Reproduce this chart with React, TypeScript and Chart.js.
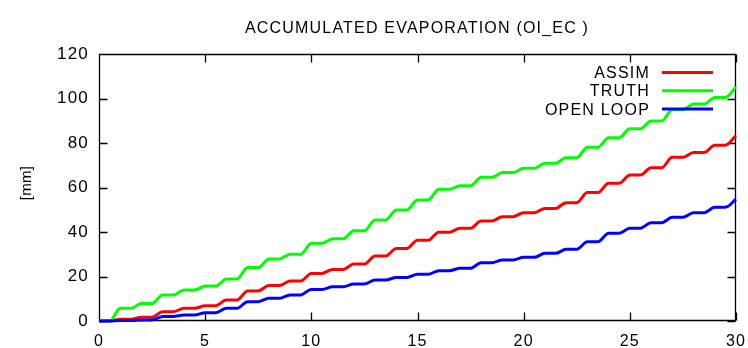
import React, { useEffect, useRef } from 'react';
import { Chart, registerables } from 'chart.js';

Chart.register(...registerables);

const TITLE = 'ACCUMULATED EVAPORATION (OI_EC )';
const Y_LABEL = '[mm]';
const DAYS = [0, 1, 2, 3, 4, 5, 6, 7, 8, 9, 10, 11, 12, 13, 14, 15, 16, 17, 18, 19, 20, 21, 22, 23, 24, 25, 26, 27, 28, 29, 30];
const ASSIM = [0, 0.8, 1.7, 4.2, 5.7, 6.9, 9.4, 13.5, 15.9, 18.0, 21.4, 23.2, 25.6, 29.2, 32.6, 36.3, 39.9, 41.7, 44.9, 46.9, 48.7, 50.6, 53.2, 57.7, 61.9, 65.6, 68.9, 73.6, 75.7, 79.0, 83.3];
const TRUTH = [0, 5.7, 7.9, 11.7, 13.9, 15.7, 18.9, 24.0, 27.9, 30.0, 34.9, 37.0, 40.6, 45.4, 49.9, 54.4, 59.2, 60.8, 64.6, 66.7, 68.6, 70.9, 73.4, 78.1, 82.4, 86.4, 89.9, 95.0, 97.5, 100.5, 105.3];
const OPEN_LOOP = [0, 0.2, 0.5, 2.0, 2.7, 3.7, 5.7, 8.7, 10.2, 11.7, 14.2, 15.4, 16.6, 18.4, 19.6, 21.0, 22.6, 23.7, 26.2, 27.4, 28.6, 30.4, 32.2, 35.6, 39.4, 41.7, 44.2, 46.6, 48.7, 51.1, 54.7];
const SERIES_NAMES = ['ASSIM', 'TRUTH', 'OPEN LOOP'];
const SERIES_VALUES = [ASSIM, TRUTH, OPEN_LOOP];
const SERIES_COLORS = ['#ff0000', '#00ff00', '#0000ff'];
const X_TICKS = [0, 5, 10, 15, 20, 25, 30];
const Y_TICKS = [0, 20, 40, 60, 80, 100, 120];
// part of each day that stays flat before the daily rise
const HOLD = 0.5;

const FONT = '"Liberation Sans", Arial, Helvetica, sans-serif';
const SPACING = '1.2px';

function toPoints(vals: number[]) {
  const pts: { x: number; y: number }[] = [];
  DAYS.forEach((d, i) => {
    pts.push({ x: d, y: vals[i] });
    if (i < DAYS.length - 1) pts.push({ x: d + HOLD, y: vals[i] });
  });
  return pts;
}

const framePlugin = {
  id: 'frame',
  beforeDraw(chart: any) {
    chart.ctx.letterSpacing = SPACING;
  },
  beforeDatasetsDraw(chart: any) {
    const { ctx, chartArea, scales } = chart;
    const { left, right, top, bottom } = chartArea;
    const L = Math.round(left) + 0.5;
    const R = Math.round(right) - 0.5;
    const T = Math.round(top) + 0.5;
    const B = Math.round(bottom) - 0.5;
    ctx.save();
    ctx.strokeStyle = '#000';
    ctx.lineWidth = 1.3;
    ctx.beginPath();
    ctx.rect(L, T, R - L, B - T);
    const len = 8;
    X_TICKS.forEach((v) => {
      const px = Math.round(scales.x.getPixelForValue(v)) + 0.5;
      ctx.moveTo(px, B);
      ctx.lineTo(px, B - len);
      ctx.moveTo(px, T);
      ctx.lineTo(px, T + len);
    });
    Y_TICKS.forEach((v) => {
      const py = Math.round(scales.y.getPixelForValue(v)) + 0.5;
      ctx.moveTo(L, py);
      ctx.lineTo(L + len, py);
      ctx.moveTo(R, py);
      ctx.lineTo(R - len, py);
    });
    ctx.stroke();

    // title
    ctx.fillStyle = '#000';
    ctx.letterSpacing = SPACING;
    ctx.font = `16px ${FONT}`;
    ctx.textAlign = 'center';
    ctx.textBaseline = 'alphabetic';
    ctx.fillText(TITLE, 417, 33);

    // y axis label
    ctx.save();
    ctx.translate(31, 183);
    ctx.rotate(-Math.PI / 2);
    ctx.font = `15px ${FONT}`;
    ctx.letterSpacing = '0.3px';
    ctx.textAlign = 'center';
    ctx.textBaseline = 'alphabetic';
    ctx.fillText(Y_LABEL, 0, 0);
    ctx.restore();
    ctx.restore();
  },
  afterDatasetsDraw(chart: any) {
    const { ctx } = chart;
    ctx.save();
    ctx.font = `16px ${FONT}`;
    ctx.letterSpacing = SPACING;
    ctx.textAlign = 'right';
    ctx.textBaseline = 'middle';
    ctx.fillStyle = '#000';
    SERIES_NAMES.forEach((name, i) => {
      const yy = 72.5 + i * 18.3;
      ctx.fillText(name, 650, yy + 1);
      ctx.strokeStyle = SERIES_COLORS[i];
      ctx.lineWidth = 3;
      ctx.beginPath();
      ctx.moveTo(662, yy);
      ctx.lineTo(713, yy);
      ctx.stroke();
    });
    ctx.restore();
  },
};

export default function App() {
  const ref = useRef<HTMLCanvasElement>(null);
  useEffect(() => {
    if (!ref.current) return;
    const chart = new Chart(ref.current, {
      type: 'line',
      data: {
        datasets: SERIES_NAMES.map((name, i) => ({
          label: name,
          data: toPoints(SERIES_VALUES[i]),
          borderColor: SERIES_COLORS[i],
          backgroundColor: SERIES_COLORS[i],
          borderWidth: 3,
          pointRadius: 0,
          fill: false,
          cubicInterpolationMode: 'monotone',
          clip: 4,
          order: SERIES_NAMES.length - i,
        })),
      },
      options: {
        animation: false,
        responsive: false,
        layout: { padding: { top: 54, right: 12, left: 0, bottom: 0 } },
        plugins: { legend: { display: false }, title: { display: false }, tooltip: { enabled: false } },
        scales: {
          x: {
            type: 'linear',
            min: 0,
            max: 30,
            grid: { display: false, drawTicks: false },
            border: { display: false },
            afterBuildTicks: (s: any) => { s.ticks = X_TICKS.map((v) => ({ value: v })); },
            afterFit: (s: any) => { s.height = 27; s.paddingLeft = 0; s.paddingRight = 0; },
            ticks: { color: '#000', font: { family: FONT, size: 16 }, padding: 11, maxRotation: 0, autoSkip: false },
          },
          y: {
            type: 'linear',
            min: 0,
            max: 120,
            grid: { display: false, drawTicks: false },
            border: { display: false },
            afterBuildTicks: (s: any) => { s.ticks = Y_TICKS.map((v) => ({ value: v })); },
            afterFit: (s: any) => { s.width = 99; s.paddingTop = 0; s.paddingBottom = 0; },
            ticks: { color: '#000', font: { family: FONT, size: 17 }, padding: 10 },
          },
        },
      },
      plugins: [framePlugin],
    } as any);
    return () => chart.destroy();
  }, []);
  return (
    <div style={{ position: 'absolute', left: 0, top: 0, width: 748, height: 348 }}>
      <canvas ref={ref} width={748} height={348} />
    </div>
  );
}
